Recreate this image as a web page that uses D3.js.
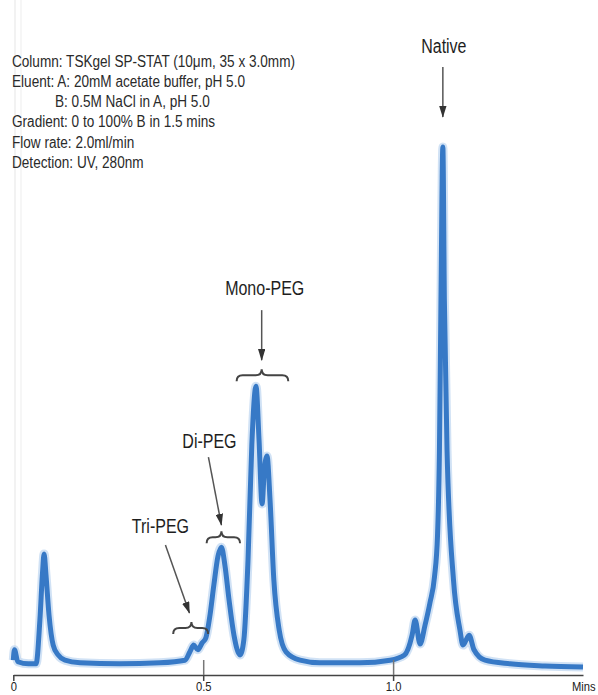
<!DOCTYPE html>
<html>
<head>
<meta charset="utf-8">
<script src="https://cdn.jsdelivr.net/npm/d3@7"></script>
<style>
	body { margin: 0; background: #fff; }
	svg { display: block; }
	.cond { font-family: "Liberation Sans", Arial, sans-serif; }
</style>
</head>
<body>
<div id="chart"></div>
<script>
// retention time (min) and detector signal (relative, Native peak = 100)
var times = [0.000, 0.003, 0.012, 0.040, 0.060, 0.070, 0.077, 0.081, 0.086, 0.094,
	0.105, 0.118, 0.136, 0.176, 0.280, 0.386, 0.452, 0.465, 0.475, 0.486,
	0.497, 0.507, 0.518, 0.528, 0.539, 0.548, 0.557, 0.568, 0.581, 0.597,
	0.607, 0.618, 0.628, 0.639, 0.647, 0.655, 0.661, 0.668, 0.676, 0.686,
	0.700, 0.718, 0.755, 0.807, 0.913, 0.992, 1.030, 1.050, 1.058, 1.071,
	1.084, 1.097, 1.109, 1.117, 1.122, 1.126, 1.131, 1.135, 1.142, 1.159, 1.176,
	1.184, 1.200, 1.213, 1.242, 1.308, 1.400, 1.500];
var signal = [1.5, 3.5, 1.2, 0.8, 0.8, 9.2, 18.4, 21.9, 17.9, 10.2,
	4.4, 2.5, 1.5, 1.0, 0.8, 1.0, 1.5, 3.1, 4.4, 3.5,
	4.8, 5.8, 10.2, 15.9, 21.5, 23.2, 19.8, 13.1, 6.3, 2.5,
	5.4, 20.7, 42.8, 54.1, 43.8, 31.5, 38.0, 40.7, 32.2, 16.9,
	7.3, 3.1, 1.5, 1.0, 1.0, 1.5, 2.5, 6.3, 9.2, 4.6,
	8.2, 12.5, 17.5, 25.5, 41.8, 70.6, 100, 70.6, 41.8, 16.9, 7.3,
	4.4, 6.3, 3.5, 1.5, 0.8, 0.4, 0.2];

var tickValues = [0, 0.5, 1.0];
var tickLabels = ["0", "0.5", "1.0"];
var axisUnit = "Mins";

var conditions = [
	"Column: TSKgel SP-STAT (10μm, 35 x 3.0mm)",
	"Eluent: A: 20mM acetate buffer, pH 5.0",
	"B: 0.5M NaCl in A, pH 5.0",
	"Gradient: 0 to 100% B in 1.5 mins",
	"Flow rate: 2.0ml/min",
	"Detection: UV, 280nm"
];

// peak labels: name, anchor (time, signal) and brace span (min)
var peakNames = ["Native", "Mono-PEG", "Di-PEG", "Tri-PEG"];
var anchorTimes = [1.131, 0.654, 0.548, 0.469];
var anchorSignal = [100, 54.1, 23.2, 4.4];
var braceFrom = [null, 0.588, 0.509, 0.421];
var braceTo = [null, 0.724, 0.597, 0.513];

var width = 598, height = 695;

var svg = d3.select("#chart").append("svg")
	.attr("width", width).attr("height", height);

var x = d3.scaleLinear().domain([0, 1.5]).range([13.3, 583]);
var y = d3.scaleLinear().domain([0, 100]).range([668, 147]);

// squeeze a text horizontally so it reads like a condensed face
function condense(sel, factor) {
	sel.each(function() {
		var len = this.getComputedTextLength();
		d3.select(this)
			.attr("textLength", (len * factor).toFixed(2))
			.attr("lengthAdjust", "spacingAndGlyphs");
	});
}

// faint scan lines at the left edge
svg.append("line")
	.attr("x1", 15).attr("x2", 15).attr("y1", 0).attr("y2", 660)
	.style("stroke", "#f2f2f2").style("stroke-width", 2);
svg.append("line")
	.attr("x1", 21).attr("x2", 21).attr("y1", 0).attr("y2", 660)
	.style("stroke", "#f6f6f6").style("stroke-width", 2);

// conditions text block
var info = svg.append("g").attr("class", "cond");
info.selectAll("text")
	.data(conditions)
	.enter()
	.append("text")
	.attr("x", (d, i) => i === 2 ? 55 : 12)
	.attr("y", (d, i) => 66.5 + i * 20.3)
	.style("font-size", "16px")
	.style("fill", "#2a2a2a")
	.text(d => d);

var firstLen = info.select("text").node().getComputedTextLength();
condense(info.selectAll("text"), 283 / firstLen);

// chromatogram
var pts = times.map((t, i) => [t, signal[i]]);
var line = d3.line()
	.x(d => x(d[0]))
	.y(d => y(d[1]))
	.curve(d3.curveMonotoneX);

svg.append("path")
	.datum(pts)
	.attr("d", line)
	.style("fill", "none")
	.style("stroke", "#b3cfee")
	.style("stroke-width", 9)
	.style("stroke-linejoin", "round")
	.style("opacity", 0.6);

svg.append("path")
	.datum(pts)
	.attr("d", line)
	.style("fill", "none")
	.style("stroke", "#3779c6")
	.style("stroke-width", 5)
	.style("stroke-linejoin", "round");

// x axis
var axisY = 675;
var gAxis = svg.append("g")
	.attr("transform", `translate(0,${ axisY })`)
	.call(d3.axisBottom(x)
		.tickValues(tickValues)
		.tickFormat((d, i) => tickLabels[i])
		.tickSizeInner(6)
		.tickSizeOuter(0)
		.tickPadding(1));

gAxis.attr("font-size", null).attr("font-family", null);
gAxis.select(".domain").style("stroke", "#444").style("stroke-width", 1.5);
gAxis.selectAll(".tick line").style("stroke", "#444").style("stroke-width", 1.5);
gAxis.selectAll(".tick text")
	.attr("class", "cond")
	.style("font-size", "13px")
	.style("fill", "#222");
condense(gAxis.selectAll(".tick text"), 0.86);

// the reference ticks also run up into the plot at 0.5 and 1.0
gAxis.selectAll(".tick").filter(d => d > 0)
	.append("line")
	.attr("y1", 0).attr("y2", -15)
	.style("stroke", "#777").style("stroke-width", 1.5);

svg.append("text")
	.attr("class", "cond")
	.attr("x", 572).attr("y", 691)
	.style("font-size", "13px")
	.style("fill", "#222")
	.text(axisUnit)
	.call(condense, 0.86);

// annotations
svg.append("defs").append("marker")
	.attr("id", "head")
	.attr("viewBox", "0 0 16 10")
	.attr("refX", 15).attr("refY", 5)
	.attr("markerWidth", 8).attr("markerHeight", 5)
	.attr("orient", "auto")
	.append("path")
	.attr("d", "M0,0 L16,5 L0,10 Z")
	.style("fill", "#333");

// label placement in pixels relative to the anchor point
var labelPos = [
	{ tx: 1, ty: -94, ax1: 0, ay1: -80, ax2: 0, ay2: -30, by: 0 },
	{ tx: 3, ty: -91, ax1: 0, ay1: -76, ax2: 0, ay2: -26, by: -11 },
	{ tx: -12, ty: -99, ax1: -13, ay1: -90, ax2: 0, ay2: -22, by: -10 },
	{ tx: -31, ty: -112, ax1: -26, ay1: -100, ax2: -2, ay2: -32, by: -17 }
];

var gAnn = svg.append("g").attr("class", "cond");

peakNames.forEach((name, i) => {
	var px = x(anchorTimes[i]);
	var py = y(anchorSignal[i]);
	var p = labelPos[i];

	gAnn.append("text")
		.attr("x", px + p.tx).attr("y", py + p.ty)
		.style("text-anchor", "middle")
		.style("font-size", "19.5px")
		.style("fill", "#1e1e1e")
		.text(name)
		.call(condense, 0.82);

	gAnn.append("line")
		.attr("x1", px + p.ax1).attr("y1", py + p.ay1)
		.attr("x2", px + p.ax2).attr("y2", py + p.ay2)
		.style("stroke", "#555")
		.style("stroke-width", 1.5)
		.attr("marker-end", "url(#head)");

	if (braceFrom[i] !== null) {
		var x1 = x(braceFrom[i]), x2 = x(braceTo[i]);
		var xm = px, by = py + p.by, h = 12, r = 6;
		var dPath = `M${ x1 },${ by + h / 2 } Q${ x1 },${ by } ${ x1 + r },${ by } L${ xm - r },${ by } Q${ xm },${ by } ${ xm },${ by - h / 2 } Q${ xm },${ by } ${ xm + r },${ by } L${ x2 - r },${ by } Q${ x2 },${ by } ${ x2 },${ by + h / 2 }`;
		gAnn.append("path")
			.attr("d", dPath)
			.style("fill", "none")
			.style("stroke", "#444")
			.style("stroke-width", 2);
	}
});
</script>
</body>
</html>
